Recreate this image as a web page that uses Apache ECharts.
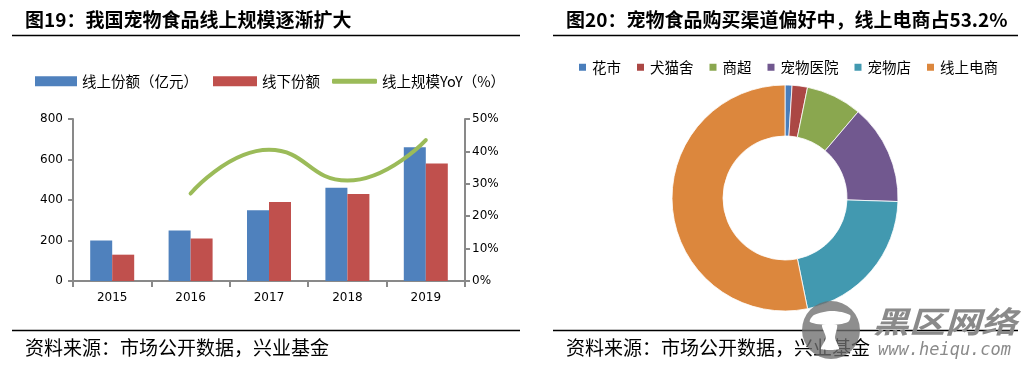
<!DOCTYPE html>
<html>
<head>
<meta charset="utf-8">
<script src="https://cdn.jsdelivr.net/npm/echarts@6/dist/echarts.min.js"></script>
<style>
html,body{margin:0;padding:0;background:#fff;}
#c{width:1033px;height:368px;}
</style>
</head>
<body>
<div id="c"></div>
<script>
// ---- Data ----
const years = ['2015', '2016', '2017', '2018', '2019'];
const onlineShare = [200, 250, 350, 460, 660];
const offlineShare = [130, 210, 390, 430, 580];
const onlineYoY = [null, 27, 40.5, 31, 43.5];
const channelNames = ['花市', '犬猫舍', '商超', '宠物医院', '宠物店', '线上电商'];
const channelValues = [1.0, 2.2, 8.0, 14.3, 21.3, 53.2];
const leftTicks = [0, 200, 400, 600, 800];
const rightTicks = [0, 10, 20, 30, 40, 50];

const CJK = "'Noto Sans CJK SC', sans-serif";
const NUM = "'DejaVu Sans', sans-serif";
const pieColors = ['#4A7EBB', '#AB4744', '#8AA74F', '#71588F', '#4299B0', '#DC873D'];

const chart = echarts.init(document.getElementById('c'), null, {renderer: 'canvas'});

const axisLineStyle = {color: '#898989', width: 2};
const legendText = {fontSize: 14.5, color: '#000', fontFamily: CJK};

const option = {
  backgroundColor: '#fff',
  animation: false,
  textStyle: {fontFamily: CJK},
  grid: {left: 73, right: 568, top: 119, bottom: 87, containLabel: false},
  legend: [
    {
      data: ['线上份额（亿元）'], left: 35, top: 74, padding: 0, itemWidth: 42, itemHeight: 10,
      textStyle: legendText, icon: 'rect'
    },
    {
      data: ['线下份额'], left: 213, top: 74, padding: 0, itemWidth: 44, itemHeight: 10,
      textStyle: legendText, icon: 'rect'
    },
    {
      data: ['线上规模YoY（%）'], left: 332, top: 74, padding: 0, itemWidth: 45, itemHeight: 5,
      icon: 'roundRect', textStyle: legendText
    },
    {
      data: channelNames, left: 577, top: 60, padding: 0, itemWidth: 9, itemHeight: 9, itemGap: 14,
      icon: 'rect', textStyle: legendText
    }
  ],
  xAxis: {
    type: 'category', data: years, boundaryGap: true,
    axisLine: {show: true, lineStyle: axisLineStyle},
    axisTick: {show: true, length: 6, lineStyle: axisLineStyle},
    axisLabel: {fontSize: 12, color: '#000', fontFamily: NUM, margin: 11}
  },
  yAxis: [
    {
      type: 'value', min: leftTicks[0], max: leftTicks[leftTicks.length - 1], interval: 200,
      axisLine: {show: true, lineStyle: axisLineStyle},
      axisTick: {show: true, length: 5, lineStyle: axisLineStyle},
      splitLine: {show: false},
      axisLabel: {fontSize: 12, color: '#000', fontFamily: NUM, margin: 10}
    },
    {
      type: 'value', min: rightTicks[0], max: rightTicks[rightTicks.length - 1], interval: 10,
      position: 'right',
      axisLine: {show: true, lineStyle: axisLineStyle},
      axisTick: {show: true, length: 5, lineStyle: axisLineStyle},
      splitLine: {show: false},
      axisLabel: {fontSize: 12, color: '#000', fontFamily: NUM, margin: 7, formatter: '{value}%'}
    }
  ],
  series: [
    {
      name: '线上份额（亿元）', type: 'bar', data: onlineShare, barWidth: 22, barGap: '0%',
      itemStyle: {color: '#4F81BD'}
    },
    {
      name: '线下份额', type: 'bar', data: offlineShare, barWidth: 22, barGap: '0%',
      itemStyle: {color: '#C0504D'}
    },
    {
      name: '线上规模YoY（%）', type: 'line', yAxisIndex: 1, data: onlineYoY, smooth: true,
      symbol: 'none', connectNulls: false,
      itemStyle: {color: '#9BBB59'},
      lineStyle: {color: '#9BBB59', width: 4, cap: 'round'}
    },
    {
      name: 'channel', type: 'pie', center: [785, 198], radius: [62, 113],
      startAngle: 90, clockwise: true,
      label: {show: false}, labelLine: {show: false},
      itemStyle: {borderColor: '#fff', borderWidth: 0.8},
      emphasis: {disabled: true},
      data: channelNames.map((n, i) => ({name: n, value: channelValues[i], itemStyle: {color: pieColors[i]}}))
    }
  ],
  graphic: [
    // titles
    {type: 'text', x: 25, y: 20, style: {text: '图19：我国宠物食品线上规模逐渐扩大', font: 'bold 19px ' + CJK, fill: '#000', verticalAlign: 'middle'}},
    {type: 'text', x: 566, y: 20, style: {text: '图20：宠物食品购买渠道偏好中，线上电商占53.2%', font: 'bold 19px ' + CJK, fill: '#000', verticalAlign: 'middle'}},
    // rules
    {type: 'line', shape: {x1: 12, y1: 35.5, x2: 520, y2: 35.5}, style: {stroke: '#000', lineWidth: 1.3}},
    {type: 'line', shape: {x1: 553, y1: 35.5, x2: 1018, y2: 35.5}, style: {stroke: '#000', lineWidth: 1.3}},
    {type: 'line', shape: {x1: 12, y1: 330.5, x2: 520, y2: 330.5}, style: {stroke: '#000', lineWidth: 1.3}},
    {type: 'line', shape: {x1: 553, y1: 330.5, x2: 1018, y2: 330.5}, style: {stroke: '#000', lineWidth: 1.3}},
    // sources
    {type: 'text', x: 25, y: 348, style: {text: '资料来源：市场公开数据，兴业基金', font: '19px ' + CJK, fill: '#000', verticalAlign: 'middle'}},
    {type: 'text', x: 566, y: 348, style: {text: '资料来源：市场公开数据，兴业基金', font: '19px ' + CJK, fill: '#000', verticalAlign: 'middle'}},
    // watermark
    {type: 'circle', shape: {cx: 831, cy: 330, r: 29}, style: {fill: 'rgba(110,110,110,0.78)'}, z: 100},
    {type: 'polygon', shape: {points: [[810, 322], [814, 315], [832, 311], [850, 315], [848, 322], [830, 325]], smooth: 0.3}, style: {fill: '#fff'}, z: 101},
    {type: 'polygon', shape: {points: [[822, 325], [837, 325], [835, 338], [839, 349], [821, 349], [826, 338]], smooth: 0.2}, style: {fill: '#fff'}, z: 101},
    {type: 'text', x: 873, y: 322, scaleX: 1.2, style: {text: '黑区网络', font: 'italic bold 30px ' + CJK, fill: '#8a8a8a', verticalAlign: 'middle'}, z: 100},
    {type: 'text', x: 878, y: 351, style: {text: 'www.heiqu.com', font: 'italic 17px "DejaVu Sans Mono", monospace', fill: '#8a8a8a', verticalAlign: 'middle'}, z: 100}
  ]
};
chart.setOption(option);
</script>
</body>
</html>
